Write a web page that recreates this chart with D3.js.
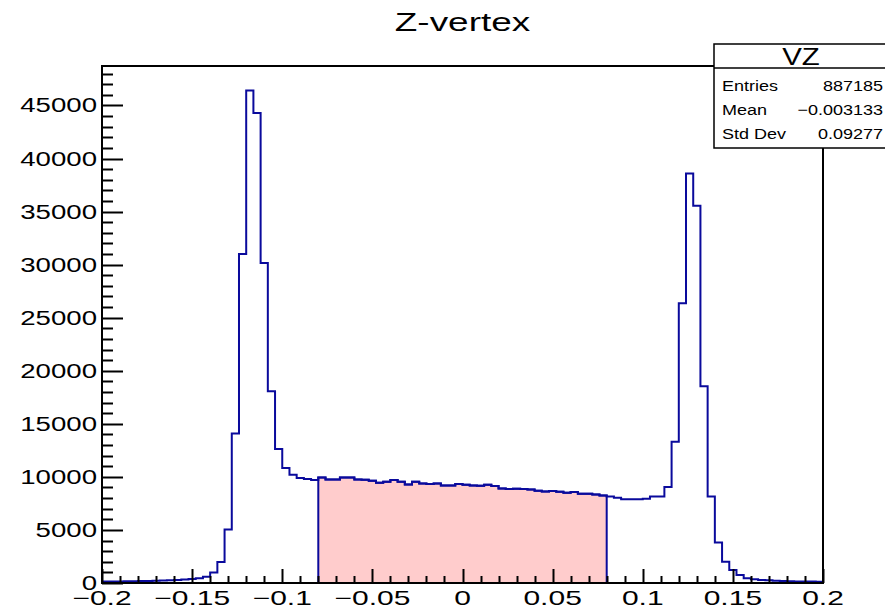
<!DOCTYPE html>
<html>
<head>
<meta charset="utf-8">
<script src="https://cdn.jsdelivr.net/npm/d3@7"></script>
<style>
  html, body { margin: 0; padding: 0; background: #fff; }
  svg { display: block; }
  text { font-family: "Liberation Sans", Arial, Helvetica, sans-serif; fill: #000; }
</style>
</head>
<body>
<svg id="chart" width="885" height="610"></svg>
<script>
// Z-vertex histogram: 100 bins from -0.2 to 0.2
const xMin = -0.2, xMax = 0.2, nBins = 100;
const binCounts = [
  150, 140, 150, 160, 170, 190, 200, 220, 240, 260,
  290, 320, 380, 450, 600, 980, 1990, 5050, 14100, 31000,
  46400, 44300, 30150, 18070, 12630, 10840, 10200, 9890, 9800, 9700,
  9950, 9760, 9760, 9950, 9950, 9760, 9730, 9640, 9450, 9540,
  9700, 9540, 9290, 9540, 9380, 9320, 9380, 9190, 9190, 9320,
  9260, 9195, 9165, 9260, 9130, 8910, 8850, 8880, 8850, 8820,
  8690, 8630, 8660, 8600, 8500, 8570, 8410, 8410, 8340, 8250,
  8150, 8030, 7900, 7900, 7900, 7950, 8150, 8150, 9040, 13320,
  26360, 38600, 35550, 18550, 8150, 3810, 2010, 1230, 755, 440,
  350, 283, 250, 220, 190, 170, 150, 140, 130, 120
];
// shaded selection window
const selLow = -0.08, selHigh = 0.08;

const xTickValues = [-0.2, -0.15, -0.1, -0.05, 0, 0.05, 0.1, 0.15, 0.2];
const xTickLabels = ["\u22120.2", "\u22120.15", "\u22120.1", "\u22120.05", "0", "0.05", "0.1", "0.15", "0.2"];
const yTickValues = [0, 5000, 10000, 15000, 20000, 25000, 30000, 35000, 40000, 45000];
const yTickLabels = ["0", "5000", "10000", "15000", "20000", "25000", "30000", "35000", "40000", "45000"];

const statsTitle = "VZ";
const statsNames = ["Entries", "Mean", "Std Dev"];
const statsValues = ["887185", "\u22120.003133", "0.09277"];

const titleText = "Z-vertex";

// ---- layout
const frame = { left: 102, right: 823, top: 66, bottom: 583 };
const yMax = 1.05 * d3.max(binCounts);
const lineColor = "#0a0a9c";
const fillColor = "#ffcccc";

const svg = d3.select("#chart");
const x = d3.scaleLinear().domain([xMin, xMax]).range([frame.left, frame.right]);
const y = d3.scaleLinear().domain([0, yMax]).range([frame.bottom, frame.top]);
const binWidth = (xMax - xMin) / nBins;

const bins = binCounts.map((v, i) => ({ lo: xMin + i * binWidth, hi: xMin + (i + 1) * binWidth, v }));

// text with horizontally widened glyphs
function sText(g, px, py, str, size, anchor, sx) {
  return g.append("text")
    .attr("transform", `translate(${px},${py}) scale(${sx},1)`)
    .attr("font-size", size)
    .attr("text-anchor", anchor)
    .text(str);
}

// ---- shaded selection
const selBins = bins.filter(b => b.lo >= selLow - 1e-9 && b.hi <= selHigh + 1e-9);
function stepPath(list) {
  const p = d3.path();
  p.moveTo(x(list[0].lo), y(0));
  list.forEach(b => { p.lineTo(x(b.lo), y(b.v)); p.lineTo(x(b.hi), y(b.v)); });
  p.lineTo(x(list[list.length - 1].hi), y(0));
  return p.toString();
}
svg.append("path")
  .attr("d", stepPath(selBins) + "Z")
  .attr("fill", fillColor)
  .attr("stroke", lineColor)
  .attr("stroke-width", 2)
  .attr("stroke-linejoin", "miter");

// ---- full histogram outline
svg.append("path")
  .attr("d", stepPath(bins))
  .attr("fill", "none")
  .attr("stroke", lineColor)
  .attr("stroke-width", 2)
  .attr("stroke-linejoin", "miter");

// ---- frame
svg.append("rect")
  .attr("x", frame.left).attr("y", frame.top)
  .attr("width", frame.right - frame.left).attr("height", frame.bottom - frame.top)
  .attr("fill", "none").attr("stroke", "#000").attr("stroke-width", 2);

// ---- y axis ticks (inward), major 5000, minor 1000
const gy = svg.append("g");
const yMinor = d3.range(0, yMax, 1000);
gy.selectAll("line.minor").data(yMinor).join("line")
  .attr("x1", frame.left).attr("x2", d => frame.left + (d % 5000 === 0 ? 21 : 11))
  .attr("y1", d => Math.round(y(d)) + 0.5).attr("y2", d => Math.round(y(d)) + 0.5)
  .attr("stroke", "#000").attr("stroke-width", 2);
yTickValues.forEach((v, i) => {
  sText(gy, 97, y(v) + 7, yTickLabels[i], 20, "end", 1.38);
});

// ---- x axis ticks (inward), major 0.05, minor 0.01
const gx = svg.append("g");
const xMinor = d3.range(0, 41).map(i => xMin + i * 0.01);
gx.selectAll("line.minor").data(xMinor).join("line")
  .attr("x1", d => Math.round(x(d)) + 0.5).attr("x2", d => Math.round(x(d)) + 0.5)
  .attr("y1", frame.bottom)
  .attr("y2", (d, i) => frame.bottom - (i % 5 === 0 ? 14 : 7))
  .attr("stroke", "#000").attr("stroke-width", 2);
xTickValues.forEach((v, i) => {
  sText(gx, x(v), 605, xTickLabels[i], 20, "middle", 1.5);
});

// ---- title
sText(svg, (frame.left + frame.right) / 2, 31, titleText, 26, "middle", 1.42);

// ---- stats box
const box = { x: 714, y: 44, w: 175, h: 104 };
const gs = svg.append("g");
gs.append("rect").attr("x", box.x).attr("y", box.y).attr("width", box.w).attr("height", box.h)
  .attr("fill", "#fff").attr("stroke", "#000").attr("stroke-width", 1.5);
gs.append("line").attr("x1", box.x).attr("x2", box.x + box.w)
  .attr("y1", frame.top + 2).attr("y2", frame.top + 2)
  .attr("stroke", "#000").attr("stroke-width", 1.5);
sText(gs, 801, 65, statsTitle, 23, "middle", 1.28);
statsNames.forEach((n, i) => {
  const ry = 91 + i * 24;
  sText(gs, 722, ry, n, 15, "start", 1.2);
  sText(gs, 883, ry, statsValues[i], 15, "end", 1.2);
});
</script>
</body>
</html>
